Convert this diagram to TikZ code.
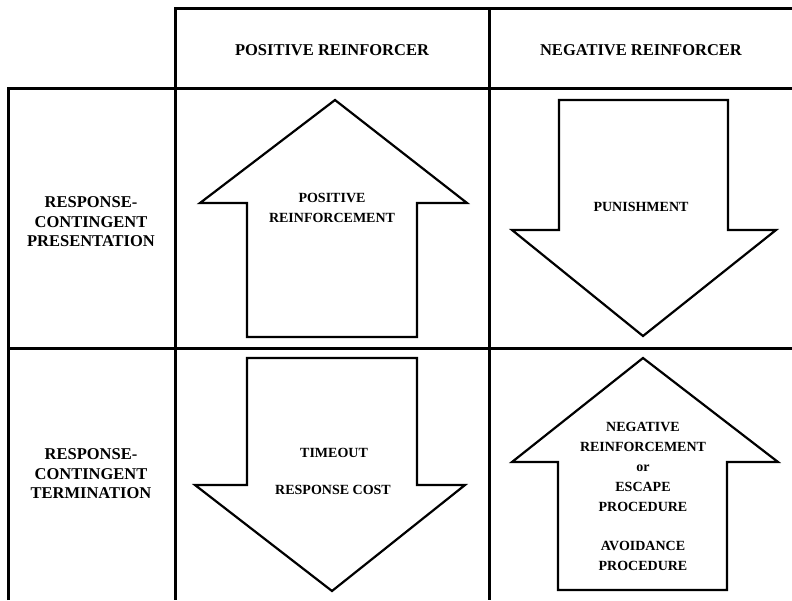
\documentclass[tikz,border=0pt]{standalone}
\usepackage{fontspec}
\setmainfont{Liberation Serif}
\begin{document}
\begin{tikzpicture}[x=1pt,y=-1pt,
  grid/.style={line width=3pt, line cap=square},
  arrowshape/.style={line width=2.2pt, line join=miter},
  lab/.style={font=\fontsize{16.5}{19.5}\selectfont\bfseries, align=center, inner sep=0pt},
  inlab/.style={font=\fontsize{14}{20}\selectfont\bfseries, align=center, inner sep=0pt}]
\useasboundingbox (0,0) rectangle (792,600);
% grid
\draw[grid] (792,8) -- (175,8) -- (175,600);
\draw[grid] (8,600) -- (8,88) -- (792,88);
\draw[grid] (8,348) -- (792,348);
\draw[grid] (489,8) -- (489,600);
% arrows
\draw[arrowshape] (247,337) -- (247,203) -- (200,203) -- (335,100) -- (467,203) -- (417,203) -- (417,337) -- cycle;
\draw[arrowshape] (559,100) -- (728,100) -- (728,230) -- (776,230) -- (643,336) -- (512,230) -- (559,230) -- cycle;
\draw[arrowshape] (247,358) -- (417,358) -- (417,485) -- (465,485) -- (332,591) -- (195,485) -- (247,485) -- cycle;
\draw[arrowshape] (558,590) -- (558,462) -- (512,462) -- (643,358) -- (778,462) -- (727,462) -- (727,590) -- cycle;
% headers
\node[lab] (hpos) at (332,50) {POSITIVE REINFORCER};
\node[lab] (hneg) at (641,50) {NEGATIVE REINFORCER};
\node[lab] (rpres) at (91,222) {RESPONSE-\\CONTINGENT\\PRESENTATION};
\node[lab] (rterm) at (91,474) {RESPONSE-\\CONTINGENT\\TERMINATION};
% arrow texts
\node[inlab] (tposr) at (332,208) {POSITIVE\\REINFORCEMENT};
\node[inlab] (tpun) at (641,207) {PUNISHMENT};
\node[inlab] (ttime) at (334,453) {TIMEOUT};
\node[inlab] (tcost) at (333,490) {RESPONSE COST};
\node[inlab] (tnegr) at (643,467) {NEGATIVE\\REINFORCEMENT\\or\\ESCAPE\\PROCEDURE};
\node[inlab] (tavoid) at (643,556) {AVOIDANCE\\PROCEDURE};
\end{tikzpicture}
\end{document}
